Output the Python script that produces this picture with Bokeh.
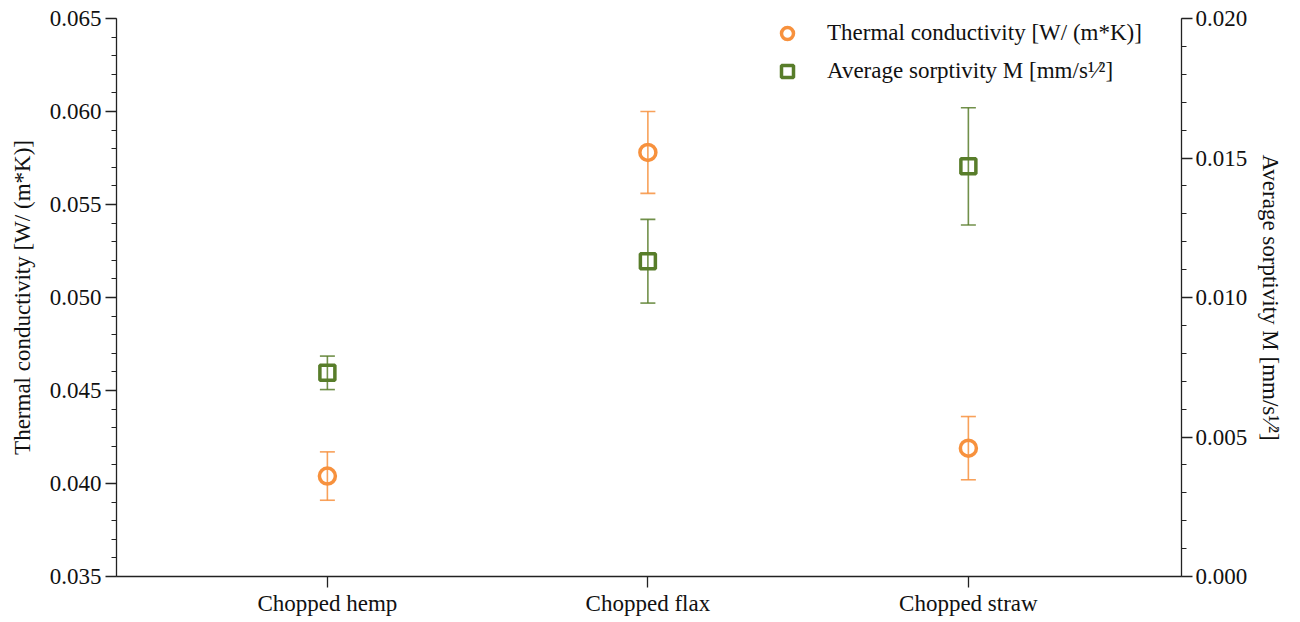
from bokeh.plotting import figure
from bokeh.models import (Range1d, LinearAxis, FixedTicker, SingleIntervalTicker,
                          NumeralTickFormatter, Whisker, TeeHead, ColumnDataSource,
                          Legend, LegendItem)
from bokeh.embed import file_html
from bokeh.resources import INLINE

categories = ["Chopped hemp", "Chopped flax", "Chopped straw"]
cat_pos = [1, 2, 3]
thermal = [0.0404, 0.0578, 0.0419]
thermal_err = [0.0013, 0.0022, 0.0017]
sorptivity = [0.0073, 0.0113, 0.0147]
sorptivity_err = [0.0006, 0.0015, 0.0021]

ORANGE = "#F7913D"
GREEN = "#587D2A"
FONT = "Liberation Serif"
AXC = "#222222"
FS = "23px"

src = ColumnDataSource(dict(
    x=cat_pos,
    tc=thermal,
    tc_lo=[v - e for v, e in zip(thermal, thermal_err)],
    tc_hi=[v + e for v, e in zip(thermal, thermal_err)],
    so=sorptivity,
    so_lo=[v - e for v, e in zip(sorptivity, sorptivity_err)],
    so_hi=[v + e for v, e in zip(sorptivity, sorptivity_err)],
))

p = figure(width=1300, height=622, output_backend="svg", toolbar_location=None,
           x_range=Range1d(0.342, 3.665), y_range=Range1d(0.035, 0.065),
           min_border_left=116, min_border_right=119, min_border_top=18, min_border_bottom=46)
p.extra_y_ranges = {"right": Range1d(0.0, 0.020)}
p.outline_line_color = None
p.xgrid.visible = False
p.ygrid.visible = False
p.background_fill_color = "white"
p.border_fill_color = "white"

def style_axis(ax, major_out=11, minor_out=5):
    ax.axis_line_color = AXC
    ax.axis_line_width = 1.3
    ax.major_tick_line_color = AXC
    ax.minor_tick_line_color = AXC
    ax.major_tick_line_width = 1.3
    ax.minor_tick_line_width = 1
    ax.major_tick_in = 0
    ax.major_tick_out = major_out
    ax.minor_tick_in = 0
    ax.minor_tick_out = minor_out
    ax.major_label_text_font = FONT
    ax.major_label_text_font_size = FS
    ax.major_label_text_color = "#111111"
    ax.axis_label_text_font = FONT
    ax.axis_label_text_font_size = FS
    ax.axis_label_text_font_style = "normal"
    ax.axis_label_text_color = "#111111"

# bottom axis
xa = p.xaxis[0]
xa.ticker = FixedTicker(ticks=cat_pos)
xa.major_label_overrides = {c: n for c, n in zip(cat_pos, categories)}
style_axis(xa, major_out=11, minor_out=0)
xa.major_label_standoff = 3

# left axis
ya = p.yaxis[0]
ya.ticker = SingleIntervalTicker(interval=0.005, num_minor_ticks=5)
ya.formatter = NumeralTickFormatter(format="0.000")
ya.axis_label = "Thermal conductivity [W/ (m*K)]"
style_axis(ya)
ya.major_label_standoff = 4
ya.axis_label_standoff = 12

# right axis
ra = LinearAxis(y_range_name="right",
                ticker=SingleIntervalTicker(interval=0.005, num_minor_ticks=5),
                formatter=NumeralTickFormatter(format="0.000"),
                axis_label="Average sorptivity M [mm/s\u00b9\u2044\u00b2]")
style_axis(ra)
ra.major_label_standoff = 3
ra.axis_label_standoff = 8
p.add_layout(ra, "right")

# error bars
def whisker(up, lo, color, **kw):
    return Whisker(source=src, base="x", upper=up, lower=lo, dimension="height",
                   line_color=color, line_width=1.6, line_alpha=0.85,
                   upper_head=TeeHead(size=15, line_color=color, line_width=1.6, line_alpha=0.85),
                   lower_head=TeeHead(size=15, line_color=color, line_width=1.6, line_alpha=0.85), **kw)

p.add_layout(whisker("tc_hi", "tc_lo", ORANGE))
p.add_layout(whisker("so_hi", "so_lo", GREEN, y_range_name="right"))

r_tc = p.scatter("x", "tc", source=src, marker="circle", size=16, fill_color=None,
                 line_color=ORANGE, line_width=3.5)
r_so = p.scatter("x", "so", source=src, marker="square", size=15, fill_color=None,
                 line_color=GREEN, line_width=3.5, y_range_name="right")

legend = Legend(items=[
    LegendItem(label="Thermal conductivity [W/ (m*K)]", renderers=[r_tc]),
    LegendItem(label="Average sorptivity M [mm/s\u00b9\u2044\u00b2]", renderers=[r_so]),
], location=(656, 490), orientation="vertical")
legend.border_line_color = None
legend.background_fill_alpha = 0
legend.label_text_font = FONT
legend.label_text_font_size = FS
legend.label_text_color = "#111111"
legend.glyph_width = 30
legend.glyph_height = 30
legend.label_standoff = 25
legend.spacing = 8
legend.padding = 0
legend.margin = 0
p.add_layout(legend, "center")

open("out.html", "w").write(file_html(p, INLINE))
